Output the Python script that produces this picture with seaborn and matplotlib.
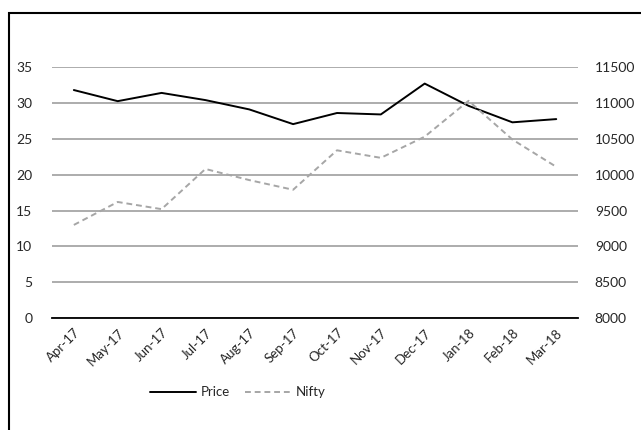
import pandas as pd
import seaborn as sns
import matplotlib.pyplot as plt
from matplotlib.lines import Line2D
from matplotlib.patches import Rectangle

months = ['Apr-17', 'May-17', 'Jun-17', 'Jul-17', 'Aug-17', 'Sep-17',
          'Oct-17', 'Nov-17', 'Dec-17', 'Jan-18', 'Feb-18', 'Mar-18']
price = [31.8, 30.25, 31.4, 30.4, 29.1, 27.05, 28.6, 28.4, 32.7, 29.6, 27.3, 27.75]
nifty = [9300, 9620, 9520, 10080, 9925, 9790, 10340, 10235, 10530, 11030, 10490, 10110]

left_ticks = [0, 5, 10, 15, 20, 25, 30, 35]
right_ticks = [8000, 8500, 9000, 9500, 10000, 10500, 11000, 11500]

df = pd.DataFrame({'month': months, 'Price': price, 'Nifty': nifty})

sns.set_style('white')
plt.rcParams['font.family'] = ['Lato', 'DejaVu Sans']

fig = plt.figure(figsize=(6.41, 4.30), dpi=100)
ax = fig.add_axes([0.081, 0.260, 0.821, 0.584])
ax2 = ax.twinx()

# outer chart frame (Excel style)
fig.patches.append(Rectangle((9 / 641, -0.1), 1.2, 1 - 13 / 430 + 0.1, transform=fig.transFigure,
                             fill=False, edgecolor='black', linewidth=1.5, zorder=0))

sns.lineplot(data=df, x='month', y='Price', ax=ax, color='black', linewidth=1.4, sort=False)
sns.lineplot(data=df, x='month', y='Nifty', ax=ax2, color='#a6a6a6', linewidth=1.4,
             linestyle=(0, (3, 2)), sort=False)

ax.set_ylim(0, 35)
ax2.set_ylim(8000, 11500)
ax.set_xlim(-0.5, len(months) - 0.5)
ax.set_yticks(left_ticks)
ax2.set_yticks(right_ticks)
ax.yaxis.grid(True, color='#a6a6a6', linewidth=1.3)
ax.set_axisbelow(True)
ax2.grid(False)

for a in (ax, ax2):
    for s in a.spines.values():
        s.set_visible(False)
    a.set_xlabel('')
    a.set_ylabel('')
ax.spines['bottom'].set_visible(True)
ax.spines['bottom'].set_color('black')
ax.spines['bottom'].set_linewidth(1.3)

ax.set_xticks(range(len(months)))
ax.set_xticklabels(months, rotation=45, ha='right', rotation_mode='anchor', fontsize=9.5)
ax.set_xticks([i - 0.5 for i in range(len(months) + 1)], minor=True)
ax.tick_params(axis='x', which='major', length=0, pad=6)
ax.tick_params(axis='x', which='minor', length=5, width=1.2, color='black', direction='out')
ax.tick_params(axis='y', length=0, labelsize=10, pad=14)
ax2.tick_params(axis='y', length=0, labelsize=10, pad=12)

handles = [Line2D([], [], color='black', linewidth=1.4),
           Line2D([], [], color='#a6a6a6', linewidth=1.4, linestyle=(0, (3, 2)))]
fig.legend(handles, ['Price', 'Nifty'], loc='center', bbox_to_anchor=(0.371, 0.088), ncol=2,
           frameon=False, fontsize=9.5, handlelength=3.5, handletextpad=0.3, columnspacing=1.2)

fig.savefig('out.png', dpi=100)
